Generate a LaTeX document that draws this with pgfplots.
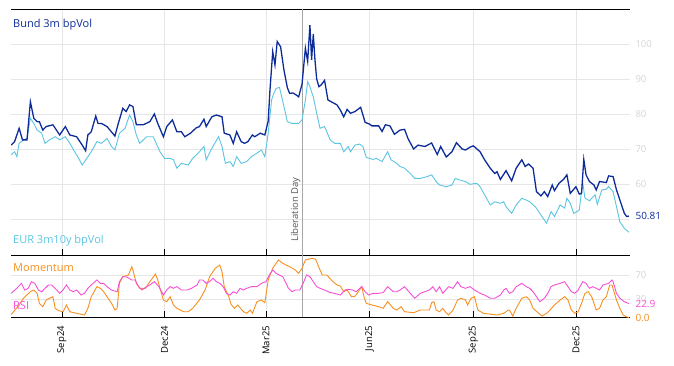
\documentclass[border=0pt]{standalone}
\usepackage{fontspec}
\setmainfont{Open Sans}
\usepackage{pgfplots}
\pgfplotsset{compat=1.18}
\definecolor{bund}{HTML}{0D2C9A}
\definecolor{eur}{HTML}{5AC5E0}
\definecolor{mom}{HTML}{F7901E}
\definecolor{rsi}{HTML}{F64FD6}
\definecolor{gridc}{HTML}{E6E6E6}
\definecolor{tickc}{HTML}{D4D4D4}
\definecolor{libc}{HTML}{A6A6A6}
\definecolor{libt}{HTML}{595959}
\pgfplotsset{
  base/.style={
    scale only axis, width=619pt,
    xmin=-45.2, xmax=504,
    xtick={0,91,181,273,365,456},
    separate axis lines,
    y axis line style={draw=none},
    x axis line style={black, line width=0.9pt},
    xtick pos=left, ytick pos=right,
    tick align=inside,
    major tick length=6pt,
    x tick style={black, line width=0.6pt},
    y tick style={draw=none},
    xmajorgrids, ymajorgrids,
    grid style={gridc, line width=0.6pt},
    yticklabel pos=right,
    yticklabel style={text=tickc, font=\fontsize{9.5}{11}\selectfont, xshift=2pt},
    /pgf/number format/assume math mode=true,
  }
}
\begin{document}
\begin{tikzpicture}
\begin{axis}[base, height=246pt, at={(0,0)}, anchor=south west,
  ymin=39.7, ymax=110,
  ytick={50,60,70,80,90,100}, yticklabels={,60,70,80,90,100},
  xticklabels={},
  extra y ticks={50.81}, extra y tick labels={50.81},
  extra y tick style={grid=none, yticklabel style={text=bund, font=\fontsize{10}{12}\selectfont}},
]
\draw[libc, line width=0.7pt] (axis cs:213,39.7) -- (axis cs:213,110);
\node[rotate=90, anchor=south west, inner sep=1.5pt, text=libt, font=\fontsize{9.5}{11}\selectfont] at (axis cs:213,43) {Liberation Day};
\addplot[eur, line width=0.9pt] table {
-45 68.3
-42 69.2
-40 67.8
-38 71.6
-34 72.6
-31 73.0
-28 78.8
-25 77.3
-22 75.4
-18 74.5
-15 71.6
-11 72.6
-6 73.5
-2 72.6
3 73.5
7 71.6
12 68.8
14 67.8
18 65.4
22 67.3
26 69.2
31 72.1
35 71.6
40 73.0
44 70.7
47 69.7
51 74.5
56 75.9
60 79.7
63 77.8
66 74.0
69 71.6
75 73.5
81 73.5
87 69.2
91 67.3
96 67.3
99 66.9
102 64.5
106 65.9
112 65.4
116 67.3
122 69.2
126 70.7
128 66.9
133 70.2
139 73.5
142 70.7
145 65.9
149 66.4
152 65.0
155 67.8
159 65.9
164 66.4
168 67.8
173 68.8
177 69.7
180 67.8
183 74.5
186 84.0
188 85.9
190 87.3
193 87.6
196 83.5
200 77.8
204 77.3
210 77.3
213 78.3
216 84.0
218 89.2
220 87.8
223 84.9
226 80.2
229 75.9
233 76.4
238 72.6
242 71.6
247 71.6
250 69.2
254 70.7
256 69.2
260 71.1
264 71.4
267 70.7
270 67.6
276 67.0
279 67.3
284 66.4
289 69.2
292 66.9
297 65.9
300 65.0
304 64.5
309 63.0
313 61.6
318 61.6
324 62.1
328 62.6
332 60.7
335 59.7
341 59.2
346 59.7
349 61.6
353 61.1
358 60.7
362 59.9
368 60.2
371 59.2
375 56.9
380 54.0
384 54.9
389 54.5
392 54.9
394 53.5
399 51.6
403 54.0
408 55.9
412 55.4
415 54.9
420 53.5
424 51.6
430 48.8
434 52.1
437 50.7
442 54.0
446 53.1
448 55.9
451 54.5
454 51.6
457 52.1
459 52.6
462 60.5
464 56.0
468 55.2
473 56.9
475 54.2
479 58.3
483 58.5
485 59.3
489 57.8
492 53.5
495 49.2
499 47.3
503 46.2
};
\addplot[bund, line width=1.3pt] table {
-45 71.1
-42 72.1
-38 75.9
-35 72.6
-31 72.6
-28 83.5
-25 78.8
-22 77.8
-20 77.8
-17 75.4
-14 76.4
-8 76.9
-2 74.0
3 76.4
7 74.0
13 73.5
17 71.6
21 69.5
23 74.0
26 74.9
30 79.4
32 77.3
35 77.3
40 76.4
47 73.7
50 77.3
54 81.6
57 80.7
60 82.6
63 82.1
66 76.9
72 76.9
78 77.8
82 80.0
85 77.3
90 73.5
93 76.4
98 78.3
102 74.9
106 74.9
109 73.5
114 74.5
119 76.0
122 76.4
126 78.5
128 76.4
133 79.2
137 79.7
142 79.2
144 74.5
149 74.0
152 71.6
155 74.9
159 72.1
162 71.6
165 72.1
169 74.0
171 73.5
176 74.5
180 74.0
183 78.0
184.5 86.5
187 97.8
189 94.0
191 100.7
194 99.2
197 92.5
200 87.5
202 85.9
205 86.0
208 85.4
210 84.9
213 88.5
216 98.8
218 95.0
220 105.4
221.5 95.5
223 102.8
224.5 95.4
226 90.0
228 87.8
230 88.3
233 89.6
236 84.0
244 82.6
247 81.1
250 79.2
253 81.3
256 80.2
260 80.7
265 81.9
269 77.6
273 77.1
275 76.6
281 76.6
284 75.0
287 76.9
291 76.6
295 74.2
300 75.4
304 75.6
307 73.0
312 70.0
316 71.1
322 70.7
328 71.7
333 68.4
336 70.7
341 67.7
346 69.2
350 71.8
355 70.0
358 69.7
362 70.5
365 70.9
371 69.2
375 66.9
380 64.5
384 63.0
386 63.5
389 61.3
394 63.8
399 60.9
403 64.5
408 66.9
411 65.0
414 65.7
418 64.5
421 57.8
425 56.6
428 57.8
431 56.4
435 59.7
437 58.1
441 60.2
445 61.3
448 62.6
451 57.3
456 59.2
459 57.1
461 57.3
463 67.0
465 62.6
468 60.7
472 59.7
474 58.3
477 60.7
483 60.4
485 62.3
489 62.1
492 58.3
497 53.5
499 51.6
501 50.7
503 50.81
};
\node[anchor=base west, inner sep=0pt, text=bund, font=\fontsize{11}{13}\selectfont] at ([xshift=2pt, yshift=-19pt]rel axis cs:0,1) {Bund 3m bpVol};
\node[anchor=base west, inner sep=0pt, text=eur, font=\fontsize{11}{13}\selectfont] at ([xshift=2pt, yshift=11.5pt]rel axis cs:0,0) {EUR 3m10y bpVol};
\end{axis}
\begin{axis}[base, height=62.5pt, at={(0,0)}, anchor=north west,
  ymin=0, ymax=102.8,
  ytick={30,70}, yticklabels={30,70},
  xticklabels={Sep24,Dec24,Mar25,Jun25,Sep25,Dec25},
  xticklabel style={rotate=90, anchor=east, text=black, font=\fontsize{9.5}{11}\selectfont},
  xticklabel shift=5pt,
  extra y ticks={22.9,0}, extra y tick labels={\textcolor{rsi}{22.9},\textcolor{mom}{0.0}},
  extra y tick style={grid=none, yticklabel style={font=\fontsize{10}{12}\selectfont}},
]
\draw[libc, line width=0.7pt] (axis cs:213,0) -- (axis cs:213,102.8);
\addplot[mom, line width=0.9pt] table {
-45 5
-39 18
-34 32
-28 42.5
-25 45.2
-22 39.8
-20 23.3
-17 17.8
-14 28.8
-8 34.2
-6 15.1
-3 11.2
1 9.5
4 20.6
7 9.5
13 6.9
20 4.1
23 15.1
26 34.2
31 50.7
34 48.0
37 42.4
40 34.2
44 23.3
47 12.3
49 15.1
51 56.2
54 67.1
59 69.9
62 83.6
63 78.1
66 56.2
69 48.0
74 48.0
77 56.2
83 71.5
85 61.7
87 48.0
90 28.8
93 26.0
96 34.2
99 20.6
102 15.1
108 9.5
112 9.5
116 15.1
122 28.8
127 45.2
131 67.1
136 80.9
140 86.3
142 75.3
144 50.7
148 34.2
150 22
153 15.1
156 20.6
161 9.5
164 6.9
167 12.3
169 6.9
173 26.0
177 28.8
180 24.3
183 61.7
187 80.9
192 94.6
196 89.1
202 83.6
207 78.1
210 72.7
213 80.9
216 94.6
222 97.4
225 96.0
229 78.1
231 69.9
235 69.9
239 61.7
244 53.5
247 51.8
250 42.4
253 45.2
257 34.0
260 35.0
263 42.4
266 50.7
268 34.0
270 23.3
275 20.6
281 17.8
285 15.1
289 26.0
294 15.1
297 12.3
301 17.8
304 9.5
312 7.9
318 12.3
326 12.3
328 24.3
330 26.0
332 12.3
335 9.5
338 15.1
340 9.5
343 4.1
347 12.3
351 28.8
354 31.6
358 28.8
360 20.6
363 31.6
366 34.2
369 12.3
374 6.9
386 4.1
392 6.9
396 12.3
397 12.3
400 2.5
403 15.1
408 31.6
412 34.2
415 28.8
418 15.1
423 6.9
426 2.5
430 6.9
433 12.3
437 20.6
442 28.8
446 34.2
449 28.8
452 12.3
455 6.9
458 9.5
461 23.3
464 39.8
467 42.4
470 34.2
474 12.3
477 15.1
480 28.8
483 34.2
486 53.5
488 53.5
492 28.8
495 15.1
498 4.1
501 1.0
503 0.0
};
\addplot[rsi, line width=0.9pt] table {
-45 39.8
-40 48.0
-36 56.2
-33 45.2
-30 48.0
-27 58.9
-24 56.2
-21 45.2
-18 42.4
-15 48.0
-12 53.5
-9 53.5
-6 48.0
-2 39.8
1 45.2
4 53.5
7 45.2
10 42.4
13 45.2
17 37.0
20 39.8
23 48.0
26 53.5
31 61.7
34 56.2
37 56.2
40 50.7
44 45.2
49 42.4
51 58.9
54 67.1
57 67.1
62 61.7
65 61.7
68 50.7
71 45.2
75 50.7
78 53.5
82 58.9
86 50.7
90 37.0
93 45.2
96 50.7
99 48.0
102 50.7
106 45.2
111 45.2
115 48.0
120 53.5
122 61.7
125 61.7
128 56.2
131 58.9
134 64.4
137 58.9
140 56.2
143 50.7
146 39.8
149 37.0
152 42.4
155 39.8
158 48.0
161 45.2
164 48.0
168 50.7
173 50.7
177 56.2
181 58.9
184 69.9
187 78.1
190 72.7
193 69.9
196 67.1
201 48.0
204 42.4
207 45.2
211 45.2
214 56.2
217 69.9
220 67.1
223 58.9
226 50.7
229 48.0
233 45.2
238 41.0
242 39.8
247 37.0
251 45.2
254 46.3
258 45.2
261 42.4
266 50.7
269 42.4
272 37.0
276 39.8
281 39.8
285 40.9
289 50.7
294 42.4
297 42.4
300 45.2
304 50.7
309 39.8
313 31.6
318 39.8
322 42.4
326 45.2
329 50.7
332 42.4
335 50.7
338 39.8
343 50.7
347 48.0
351 58.9
354 50.7
358 48.0
362 50.7
366 45.2
371 39.8
375 37.0
380 31.6
384 31.6
389 37.0
392 45.2
394 48.0
397 39.8
400 42.4
403 50.7
408 56.2
412 50.7
415 48.0
418 42.4
421 34.2
424 26.0
428 31.6
431 39.8
434 50.7
437 53.5
442 56.2
446 58.9
449 50.7
452 42.4
455 39.8
458 45.2
462 58.9
465 56.2
468 48.0
471 50.7
474 48.0
477 45.2
480 53.5
485 56.2
488 61.7
489 58.9
492 39.8
495 31.6
499 26.0
503 22.9
};
\node[anchor=base west, inner sep=0pt, text=mom, font=\fontsize{11}{13}\selectfont] at ([xshift=2pt, yshift=-16.7pt]rel axis cs:0,1) {Momentum};
\node[anchor=base west, inner sep=0pt, text=rsi, font=\fontsize{11}{13}\selectfont] at ([xshift=2pt, yshift=7.5pt]rel axis cs:0,0) {RSI};
\end{axis}
\path[use as bounding box] (-11pt,-111pt) rectangle (663pt,255pt);
\end{tikzpicture}
\end{document}
